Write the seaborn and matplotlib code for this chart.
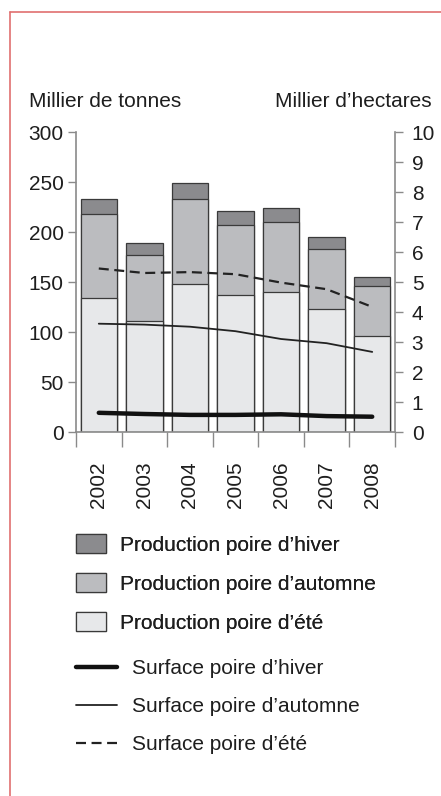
import matplotlib
matplotlib.use("Agg")
import matplotlib.pyplot as plt
import matplotlib.patches as mpatches
from matplotlib.lines import Line2D
import seaborn as sns
import pandas as pd
import numpy as np

# data
years = ["2002", "2003", "2004", "2005", "2006", "2007", "2008"]
prod_ete = [134, 111, 148, 137, 140, 123, 96]
prod_automne = [84, 66, 85, 70, 70, 60, 50]
prod_hiver = [15, 12, 16, 14, 14, 12, 9]
surf_ete = [5.45, 5.30, 5.33, 5.26, 4.98, 4.76, 4.17]
surf_automne = [3.61, 3.58, 3.51, 3.36, 3.10, 2.96, 2.67]
surf_hiver = [0.64, 0.60, 0.57, 0.57, 0.59, 0.53, 0.51]

c_hiver = "#8b8b8e"
c_automne = "#bbbcbf"
c_ete = "#e7e8ea"
edge = "#3a3a3a"
spine_col = "#8a8a8a"
txt_col = "#1e1e1e"

sns.set_style("white")
plt.rcParams["font.family"] = ["Liberation Sans", "DejaVu Sans"]
plt.rcParams["text.color"] = txt_col
fs = 15

df = pd.DataFrame({
    "annee": years,
    "ete": prod_ete,
    "automne": prod_automne,
    "hiver": prod_hiver,
})
df["cum_automne"] = df["ete"] + df["automne"]
df["total"] = df["cum_automne"] + df["hiver"]

fig = plt.figure(figsize=(4.41, 7.96), dpi=100)
ax = fig.add_axes([76 / 441, 1 - 432 / 796, 319 / 441, 300 / 796])

# stacked bars drawn as overlapping cumulative totals
for col, colr in [("total", c_hiver), ("cum_automne", c_automne), ("ete", c_ete)]:
    sns.barplot(data=df, x="annee", y=col, color=colr, width=0.8,
                edgecolor=edge, linewidth=0.9, ax=ax, saturation=1)

ax.set_xlim(-0.5, 6.5)
ax.set_ylim(0, 300)
ax.set_yticks(np.arange(0, 301, 50))
ax.set_xlabel("")
ax.set_ylabel("")
ax.set_xticks(range(len(years)))
ax.set_xticklabels(years, rotation=90, fontsize=fs)
ax.set_xticks(np.arange(-0.5, 7, 1), minor=True)
ax.tick_params(axis="x", which="major", length=0, pad=21, labelcolor=txt_col)
ax.tick_params(axis="x", which="minor", length=11, width=1, color=spine_col,
               direction="out", bottom=True)
ax.tick_params(axis="y", length=6, width=1, color=spine_col, direction="out",
               labelsize=fs, pad=3, left=True, labelcolor=txt_col)
for s in ["top", "right"]:
    ax.spines[s].set_visible(False)
for s in ["left", "bottom"]:
    ax.spines[s].set_color(spine_col)
    ax.spines[s].set_linewidth(1.2)

ax2 = ax.twinx()
xpos = np.arange(len(years))
sns.lineplot(x=xpos, y=surf_ete, ax=ax2, color="#222222", lw=1.6,
             linestyle=(0, (4.5, 2.5)))
sns.lineplot(x=xpos, y=surf_automne, ax=ax2, color="#222222", lw=1.3)
sns.lineplot(x=xpos, y=surf_hiver, ax=ax2, color="#111111", lw=3.2,
             solid_capstyle="round")
ax2.set_ylim(0, 10)
ax2.set_yticks(range(0, 11))
ax2.set_xlim(-0.5, 6.5)
ax2.tick_params(axis="y", length=6, width=1, color=spine_col, direction="out",
                labelsize=fs, pad=6, right=True, labelcolor=txt_col)
for s in ["top", "left", "bottom"]:
    ax2.spines[s].set_visible(False)
ax2.spines["right"].set_color(spine_col)
ax2.spines["right"].set_linewidth(1.2)

fig.text(29 / 441, 1 - 107 / 796, "Millier de tonnes", fontsize=fs,
         ha="left", va="baseline")
fig.text(432 / 441, 1 - 107 / 796, "Millier d\u2019hectares", fontsize=fs,
         ha="right", va="baseline")

# legends
patch_handles = [
    mpatches.Patch(facecolor=c_hiver, edgecolor=edge, lw=0.9, label="Production poire d\u2019hiver"),
    mpatches.Patch(facecolor=c_automne, edgecolor=edge, lw=0.9, label="Production poire d\u2019automne"),
    mpatches.Patch(facecolor=c_ete, edgecolor=edge, lw=0.9, label="Production poire d\u2019\u00e9t\u00e9"),
]
leg1 = fig.legend(handles=patch_handles, loc="upper left",
                  bbox_to_anchor=(76 / 441, 1 - 534 / 796), frameon=False,
                  fontsize=fs, handlelength=1.45, handleheight=1.05,
                  handletextpad=0.65, labelspacing=0.87, borderaxespad=0,
                  borderpad=0)
line_handles = [
    Line2D([], [], color="#111111", lw=3.2, label="Surface poire d\u2019hiver"),
    Line2D([], [], color="#222222", lw=1.3, label="Surface poire d\u2019automne"),
    Line2D([], [], color="#222222", lw=1.6, linestyle=(0, (4.5, 2.5)),
           label="Surface poire d\u2019\u00e9t\u00e9"),
]
fig.legend(handles=line_handles, loc="upper left",
           bbox_to_anchor=(76 / 441, 1 - 659 / 796), frameon=False,
           fontsize=fs, handlelength=1.95, handletextpad=0.75,
           labelspacing=0.92, borderaxespad=0, borderpad=0)
fig.add_artist(leg1)

# red frame
fig.add_artist(Line2D([10 / 441, 10 / 441], [0, 1 - 12 / 796],
                      transform=fig.transFigure, color="#e07070", lw=1.2))
fig.add_artist(Line2D([10 / 441, 1], [1 - 12 / 796, 1 - 12 / 796],
                      transform=fig.transFigure, color="#e07070", lw=1.2))

fig.savefig("out.png", dpi=100)
